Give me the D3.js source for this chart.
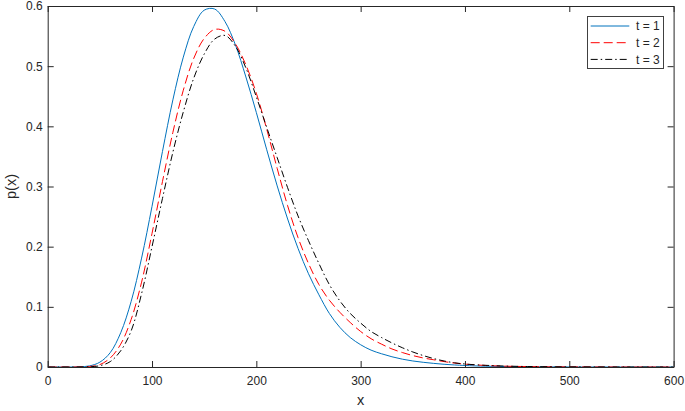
<!DOCTYPE html>
<html>
<head>
<meta charset="utf-8">
<script src="https://cdn.jsdelivr.net/npm/d3@7"></script>
<style>
  body { margin: 0; background: #fff; }
  svg { display: block; font-family: "Liberation Sans", Arial, sans-serif; }
</style>
</head>
<body>
<svg id="chart" width="685" height="411"></svg>
<script>
// values
var xValues = [0, 10, 20, 30, 40, 50, 60, 70, 80, 90, 100, 110, 120, 130, 140, 150, 160, 170, 180, 190,
               200, 210, 220, 230, 240, 250, 260, 270, 280, 290, 300, 310, 320, 330, 340, 350, 360, 370, 380, 390,
               400, 420, 440, 460, 480, 500, 520, 540, 560, 580, 600];
var pT1 = [0, 0, 0, 0.0002, 0.0018, 0.008, 0.024, 0.057, 0.109, 0.181,
           0.267, 0.358, 0.444, 0.515, 0.566, 0.593, 0.595, 0.574, 0.535, 0.482,
           0.423, 0.361, 0.301, 0.246, 0.197, 0.155, 0.12, 0.089, 0.066, 0.049,
           0.037, 0.028, 0.022, 0.017, 0.013, 0.010, 0.0078, 0.006, 0.0045, 0.0034,
           0.0025, 0.0013, 0.0007, 0.0004, 0.0002, 0.0001, 0, 0, 0, 0, 0];
var pT2 = [0, 0, 0, 0.0001, 0.0007, 0.004, 0.015, 0.038, 0.079, 0.141,
           0.222, 0.308, 0.390, 0.460, 0.513, 0.546, 0.561, 0.558, 0.537, 0.502,
           0.455, 0.395, 0.330, 0.268, 0.215, 0.172, 0.137, 0.111, 0.091, 0.074,
           0.059, 0.047, 0.038, 0.030, 0.024, 0.019, 0.015, 0.012, 0.009, 0.0065,
           0.0048, 0.0025, 0.0013, 0.0007, 0.0004, 0.0002, 0.0001, 0, 0, 0, 0];
var pT3 = [0, 0, 0, 0.0001, 0.0004, 0.0022, 0.009, 0.027, 0.060, 0.122,
           0.20, 0.280, 0.357, 0.424, 0.480, 0.520, 0.545, 0.551, 0.533, 0.497,
           0.449, 0.398, 0.348, 0.298, 0.251, 0.210, 0.172, 0.137, 0.110, 0.089,
           0.073, 0.059, 0.049, 0.040, 0.032, 0.025, 0.019, 0.014, 0.010, 0.007,
           0.005, 0.0028, 0.0015, 0.0008, 0.0004, 0.0002, 0.0001, 0, 0, 0, 0];
var seriesNames = ["t = 1", "t = 2", "t = 3"];
var xTicks = [0, 100, 200, 300, 400, 500, 600];
var yTicks = [0, 0.1, 0.2, 0.3, 0.4, 0.5, 0.6];

var series = [
    { name: seriesNames[0], values: pT1, color: "#0072BD", dash: null },
    { name: seriesNames[1], values: pT2, color: "#FF0000", dash: "9,4" },
    { name: seriesNames[2], values: pT3, color: "#000000", dash: "7,3,1.5,3" }
];

var svg = d3.select("#chart");
var plotLeft = 47.7, plotRight = 673.6, plotTop = 6, plotBottom = 367;
var axisColor = "#262626";

var x = d3.scaleLinear().domain([0, 600]).range([plotLeft, plotRight]);
var y = d3.scaleLinear().domain([0, 0.6]).range([plotBottom, plotTop]);

svg.append("clipPath").attr("id", "plotArea")
    .append("rect")
    .attr("x", plotLeft).attr("y", plotTop)
    .attr("width", plotRight - plotLeft).attr("height", plotBottom - plotTop);

// curves
var line = d3.line()
    .x(function (d, i) { return x(xValues[i]); })
    .y(function (d) { return y(d); })
    .curve(d3.curveCatmullRom.alpha(0.5));

svg.append("g").attr("clip-path", "url(#plotArea)")
    .selectAll("path")
    .data(series)
    .enter()
    .append("path")
    .attr("fill", "none")
    .attr("stroke", function (d) { return d.color; })
    .attr("stroke-width", 1)
    .attr("stroke-dasharray", function (d) { return d.dash; })
    .attr("d", function (d) { return line(d.values); });

// axes, ticks pointing inwards on all four sides
function styleAxis(g) {
    g.selectAll("path").attr("stroke", axisColor);
    g.selectAll("line").attr("stroke", axisColor);
    g.selectAll("text").attr("fill", axisColor).attr("font-size", "12px");
}

svg.append("g")
    .attr("transform", "translate(0," + plotBottom + ")")
    .call(d3.axisBottom(x).tickValues(xTicks).tickSize(-6).tickSizeOuter(0).tickPadding(9)
        .tickFormat(d3.format("d")))
    .call(styleAxis);

svg.append("g")
    .attr("transform", "translate(0," + plotTop + ")")
    .call(d3.axisTop(x).tickValues(xTicks).tickSize(-6).tickSizeOuter(0).tickFormat(""))
    .call(styleAxis);

svg.append("g")
    .attr("transform", "translate(" + plotLeft + ",0)")
    .call(d3.axisLeft(y).tickValues(yTicks).tickSize(-6).tickSizeOuter(0).tickPadding(5)
        .tickFormat(function (d) { return d === 0 ? "0" : d3.format(".1f")(d); }))
    .call(styleAxis);

svg.append("g")
    .attr("transform", "translate(" + plotRight + ",0)")
    .call(d3.axisRight(y).tickValues(yTicks).tickSize(-6).tickSizeOuter(0).tickFormat(""))
    .call(styleAxis);

svg.selectAll(".domain").attr("stroke-width", 1);

// axis labels
svg.append("text")
    .attr("x", (plotLeft + plotRight) / 2)
    .attr("y", 405)
    .attr("text-anchor", "middle")
    .attr("font-size", "14.5px")
    .attr("fill", axisColor)
    .text("x");

svg.append("text")
    .attr("transform", "translate(16," + ((plotTop + plotBottom) / 2) + ") rotate(-90)")
    .attr("text-anchor", "middle")
    .attr("font-size", "14.5px")
    .attr("fill", axisColor)
    .text("p(x)");

// legend
var legend = svg.append("g").attr("transform", "translate(587.5,16.5)");
legend.append("rect")
    .attr("width", 76)
    .attr("height", 52)
    .attr("fill", "#fff")
    .attr("stroke", "#404040")
    .attr("stroke-width", 1);

var rows = legend.selectAll("g.row")
    .data(series)
    .enter()
    .append("g")
    .attr("class", "row")
    .attr("transform", function (d, i) { return "translate(0," + (9.5 + i * 16.7) + ")"; });

rows.append("line")
    .attr("x1", 3.2).attr("x2", 41.8)
    .attr("stroke", function (d) { return d.color; })
    .attr("stroke-width", 1)
    .attr("stroke-dasharray", function (d) { return d.dash; });

rows.append("text")
    .attr("x", 48.5)
    .attr("y", 4.3)
    .attr("font-size", "12px")
    .attr("fill", axisColor)
    .text(function (d) { return d.name; });
</script>
</body>
</html>
